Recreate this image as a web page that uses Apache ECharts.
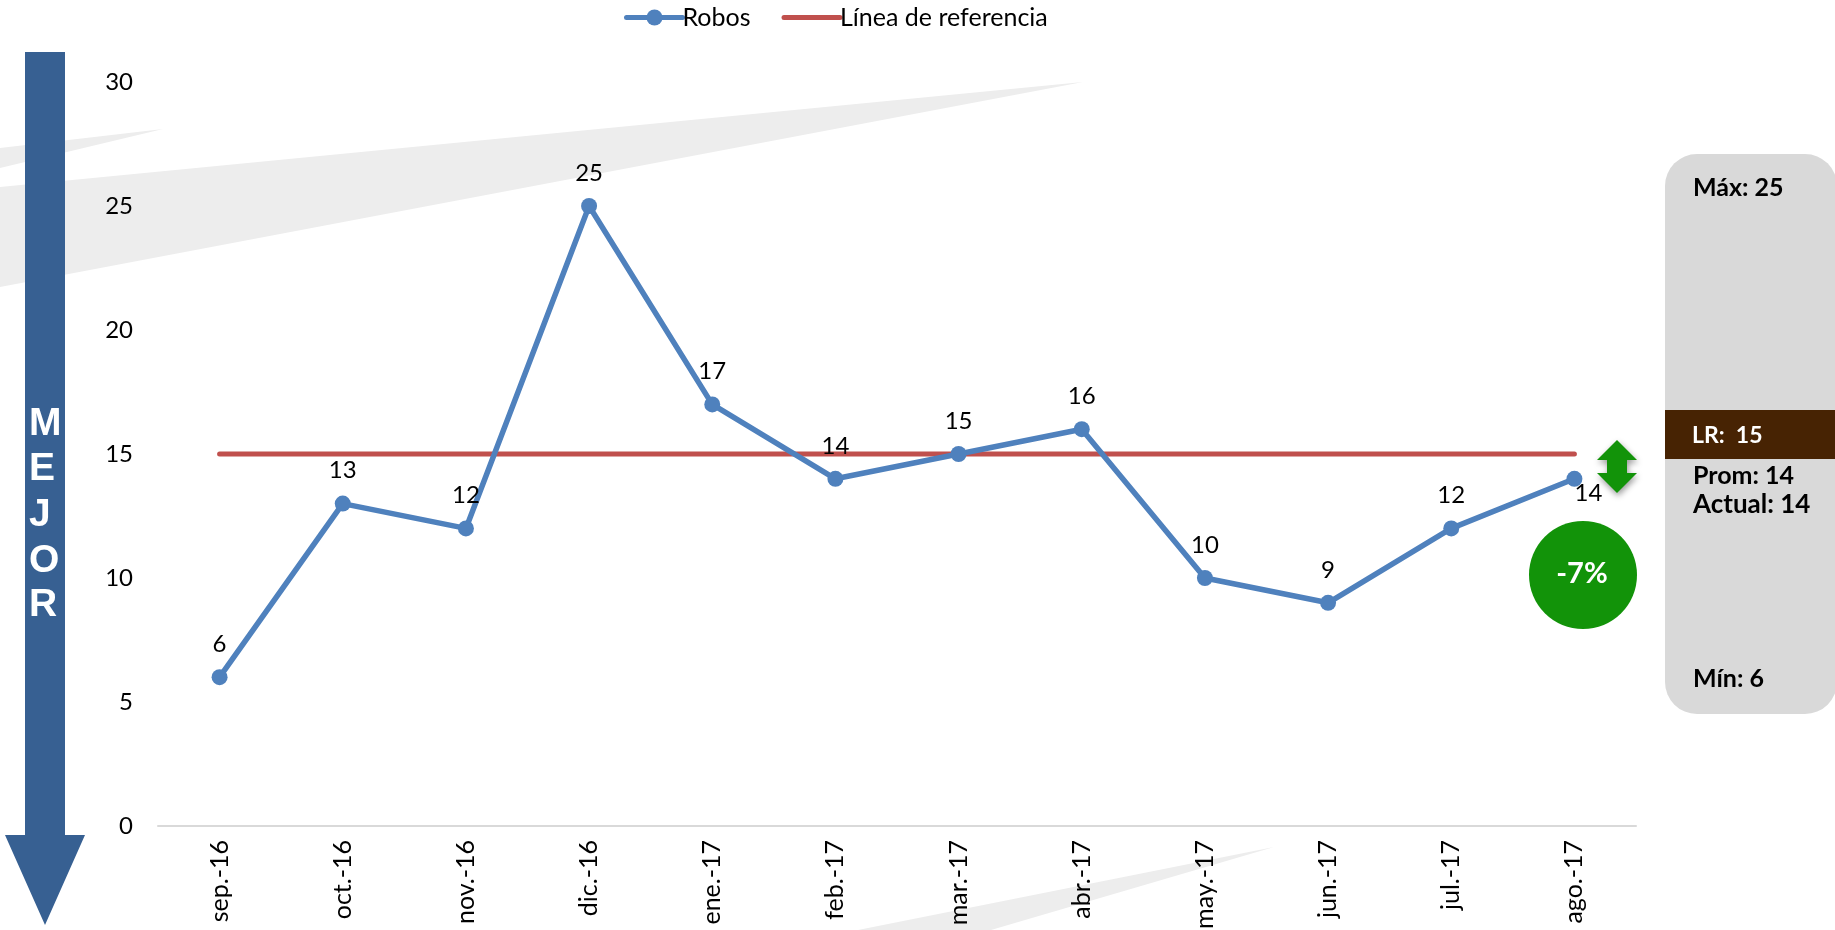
<!DOCTYPE html>
<html><head><meta charset="utf-8">
<script src="https://cdn.jsdelivr.net/npm/echarts@6/dist/echarts.min.js"></script>
<style>html,body{margin:0;padding:0;background:#fff}#c{width:1835px;height:930px}</style>
</head><body><div id="c"></div>
<script>
const categories = ['sep.-16','oct.-16','nov.-16','dic.-16','ene.-17','feb.-17','mar.-17','abr.-17','may.-17','jun.-17','jul.-17','ago.-17'];
const robos = [6,13,12,25,17,14,15,16,10,9,12,14];
const referencia = [15,15,15,15,15,15,15,15,15,15,15,15];
const yTicks = {min:0,max:30,interval:5};
const panelMax = 'Máx: 25', panelLR = 'LR:  15', panelProm = 'Prom: 14', panelActual = 'Actual: 14', panelMin = 'Mín: 6', change = '-7%';
const mejor = ['M','E','J','O','R'];
const mejorY = [405,450,496,542,586];

const font = 'Lato, Carlito, sans-serif';
const wedge = (pts)=>({type:'polygon',z:-10,silent:true,shape:{points:pts},style:{fill:'#EDEDED'}});
const ptxt = (x,y,t,size,fill)=>({type:'text',z:60,x,y,style:{text:t,font:`bold ${size}px ${font}`,fill,textVerticalAlign:'middle'}});
const graphic = [
  wedge([[0,187],[1083,82],[0,287]]),
  wedge([[0,148],[163,129],[0,168]]),
  wedge([[858,930],[1274,847],[991,930]]),
  {type:'polygon',z:50,shape:{points:[[25,52],[65,52],[65,835],[85,835],[45,925],[5,835],[25,835]]},style:{fill:'#376092'}},
  ...mejor.map((m,i)=>({type:'text',z:60,x:29,y:mejorY[i],style:{text:m,font:'bold 39px "Liberation Sans", Arial, sans-serif',fill:'#fff'}})),
  {type:'rect',z:50,shape:{x:1665,y:154,width:172,height:560,r:32},style:{fill:'#D9D9D9'}},
  {type:'rect',z:51,shape:{x:1665,y:410,width:172,height:49},style:{fill:'#472303'}},
  ptxt(1693,188,panelMax,25,'#000'),
  ptxt(1692,436,panelLR,23,'#fff'),
  ptxt(1693,476,panelProm,25,'#000'),
  ptxt(1693,505,panelActual,26,'#000'),
  ptxt(1693,679,panelMin,25,'#000'),
  {type:'polygon',z:55,shape:{points:[[1617,440],[1637,460],[1627,460],[1627,473],[1637,473],[1617,493],[1597,473],[1607,473],[1607,460],[1597,460]]},
    style:{fill:'#129309',shadowColor:'rgba(0,0,0,0.4)',shadowBlur:6,shadowOffsetX:1,shadowOffsetY:3}},
  {type:'circle',z:55,shape:{cx:1583,cy:575,r:54},style:{fill:'#129309'}},
  {type:'text',z:60,x:1582,y:574,style:{text:change,font:`bold 29px ${font}`,fill:'#fff',textAlign:'center',textVerticalAlign:'middle',shadowColor:'rgba(0,0,0,0.3)',shadowBlur:3,shadowOffsetY:1}}
];
const chart = echarts.init(document.getElementById('c'),null,{renderer:'canvas'});
chart.setOption({
  animation:false,
  backgroundColor:'#fff',
  textStyle:{fontFamily:font},
  legend:{top:0,left:619,itemWidth:56,itemHeight:20,itemGap:31,
    lineStyle:{width:5},
    textStyle:{fontSize:25,color:'#000',padding:[0,0,0,-5],fontFamily:font},
    data:[{name:'Robos'},{name:'Línea de referencia',itemStyle:{opacity:0}}]},
  grid:{left:158,right:199,top:82,bottom:104,containLabel:false,outerBoundsMode:'none'},
  xAxis:{type:'category',data:categories,boundaryGap:true,
    axisLine:{lineStyle:{color:'#D9D9D9',width:2}},axisTick:{show:false},
    axisLabel:{rotate:90,interval:0,fontSize:25,color:'#000',margin:14,fontFamily:font}},
  yAxis:{type:'value',min:yTicks.min,max:yTicks.max,interval:yTicks.interval,
    axisLine:{show:false},axisTick:{show:false},splitLine:{show:false},
    axisLabel:{fontSize:24,color:'#000',margin:25,fontFamily:font}},
  series:[
    {name:'Robos',type:'line',data:robos.map((v,i)=> i===robos.length-1
        ? {value:v,label:{position:'bottom',distance:-6,offset:[14,0]}} : v),
      z:3,symbol:'circle',symbolSize:16,showSymbol:true,
      lineStyle:{color:'#4F81BD',width:5.5,cap:'round'},itemStyle:{color:'#4F81BD'},
      label:{show:true,position:'top',distance:13,fontSize:24,color:'#000',fontFamily:font}},
    {name:'Línea de referencia',type:'line',data:referencia,z:2,symbol:'none',
      lineStyle:{color:'#C0504D',width:5,cap:'round'},itemStyle:{color:'#C0504D'}}
  ],
  graphic:{elements:graphic}
});
</script></body></html>
